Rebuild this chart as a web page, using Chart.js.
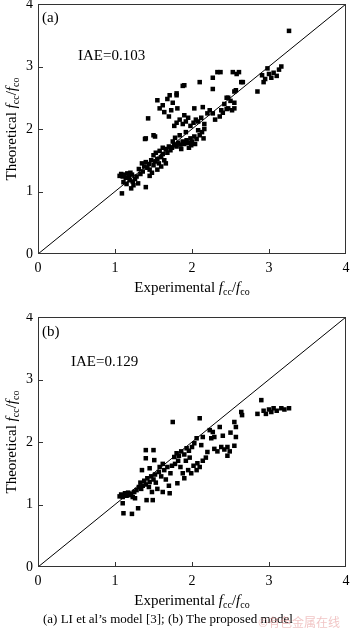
<!DOCTYPE html>
<html>
<head>
<meta charset="utf-8">
<script src="https://cdn.jsdelivr.net/npm/chart.js@4"></script>
<style>
  body { margin: 0; background: #fff; }
  #wrap { position: relative; width: 350px; height: 632px; font-family: "Liberation Serif", "Times New Roman", serif; color: #000; }
  canvas { position: absolute; left: 0; }
  .lbl { position: absolute; white-space: nowrap; font-size: 15px; line-height: 1; }
  .ytitle { position: absolute; white-space: nowrap; font-size: 15px; line-height: 1; transform: translate(-50%, -50%) rotate(-90deg); }
  .xtitle { position: absolute; white-space: nowrap; font-size: 15px; line-height: 1; transform: translate(-50%, -50%); }
  .ytitle sub, .xtitle sub { font-size: 10px; vertical-align: -3px; }
</style>
</head>
<body>
<div id="wrap">
  <canvas id="chartA" width="350" height="300" style="top:0px"></canvas>
  <canvas id="chartB" width="350" height="300" style="top:313px"></canvas>

  <div class="lbl" style="left:42px;top:10px;">(a)</div>
  <div class="lbl" style="left:78px;top:48px;">IAE=0.103</div>
  <div class="ytitle" style="left:12px;top:129px;">Theoretical <i>f</i><sub>cc</sub>/<i>f</i><sub>co</sub></div>
  <div class="xtitle" style="left:192px;top:288px;">Experimental <i>f</i><sub>cc</sub>/<i>f</i><sub>co</sub></div>

  <div class="lbl" style="left:42px;top:324px;">(b)</div>
  <div class="lbl" style="left:71px;top:354px;">IAE=0.129</div>
  <div class="ytitle" style="left:12px;top:442px;">Theoretical <i>f</i><sub>cc</sub>/<i>f</i><sub>co</sub></div>
  <div class="xtitle" style="left:192px;top:601px;">Experimental <i>f</i><sub>cc</sub>/<i>f</i><sub>co</sub></div>

  <div class="lbl" style="left:43px;top:612px;font-size:13px;">(a) LI et al’s model [3]; (b) The proposed model</div>
  <div class="lbl" style="left:258px;top:616px;font-size:12px;color:rgba(230,150,150,0.55);font-family:'Noto Sans CJK SC',sans-serif;">©有色金属在线</div>
</div>

<script>
// axis ticks (both panels share the same 0-4 range)
const tickValues = [0, 1, 2, 3, 4];
// 1:1 reference line
const diagX = [0, 4];
const diagY = [0, 4];

// (a) LI et al's model
const expA = [
  1.09, 1.06, 1.08, 1.10, 1.12, 1.14, 1.16, 1.18, 1.20, 1.22, 1.11, 1.15, 1.19, 1.23, 1.26, 1.28, 1.24, 1.21, 1.30, 1.40,
  1.33, 1.36, 1.31, 1.38, 1.42, 1.35, 1.40, 1.44, 1.47, 1.45, 1.48, 1.50, 1.52, 1.55, 1.50, 1.53, 1.57, 1.60, 1.58, 1.62,
  1.64, 1.66, 1.62, 1.68, 1.70, 1.72, 1.60, 1.66, 1.55, 1.45, 1.39, 1.43, 1.50, 1.52, 1.40,
  1.74, 1.77, 1.80, 1.82, 1.85, 1.88, 1.90, 1.93, 1.95, 1.98, 2.00, 2.03, 2.06, 2.10, 2.13, 1.99, 1.78, 1.84, 1.92, 2.08,
  2.15, 1.75, 1.86, 1.96, 2.04, 2.16,
  1.77, 1.80, 1.84, 1.88, 1.92, 1.95, 1.98, 2.02, 2.05, 2.08, 2.12, 2.16, 2.20, 2.27, 2.23, 2.03, 2.14, 2.36, 2.38, 2.30, 1.90,
  1.55, 1.58, 1.64, 1.68, 1.71, 1.73, 1.75, 1.80, 1.81, 1.80, 1.88, 1.90, 1.62, 1.70,
  2.10, 2.27, 2.27, 2.33, 2.37, 2.45, 2.45, 2.47, 2.52, 2.55, 2.57, 2.55, 2.55, 2.53, 2.58, 2.61, 2.64, 2.66, 2.42, 2.50,
  2.47, 2.40,
  2.85, 2.91, 2.95, 2.98, 3.00, 3.03, 3.06, 3.10, 3.13, 3.16, 2.93, 3.26
];
const theoA = [
  0.97, 1.25, 1.28, 1.24, 1.27, 1.22, 1.29, 1.25, 1.30, 1.27, 1.15, 1.12, 1.18, 1.16, 1.20, 1.24, 1.10, 1.05, 1.13, 1.07,
  1.28, 1.32, 1.36, 1.40, 1.38, 1.45, 1.47, 1.44, 1.50, 1.35, 1.30, 1.42, 1.48, 1.52, 1.58, 1.62, 1.45, 1.55, 1.65, 1.60,
  1.50, 1.68, 1.70, 1.62, 1.72, 1.66, 1.40, 1.45, 1.35, 1.25, 1.84, 2.17, 1.90, 1.88, 1.85,
  1.70, 1.74, 1.72, 1.78, 1.75, 1.80, 1.76, 1.82, 1.78, 1.85, 1.80, 1.88, 1.84, 1.90, 1.95, 1.74, 1.86, 1.90, 1.95, 1.98,
  1.85, 1.80, 1.68, 1.70, 1.76, 2.00,
  2.05, 2.10, 2.15, 2.08, 2.12, 2.18, 2.05, 2.10, 2.15, 2.12, 2.18, 2.08, 2.25, 2.25, 2.30, 2.33, 2.35, 2.20, 2.30, 2.15, 2.22,
  2.46, 2.33, 2.27, 2.48, 2.54, 2.30, 2.42, 2.54, 2.33, 2.57, 2.69, 2.70, 2.38, 2.20,
  2.75, 2.82, 2.64, 2.91, 2.91, 2.50, 2.32, 2.50, 2.30, 2.60, 2.62, 2.42, 2.33, 2.91, 2.88, 2.91, 2.75, 2.75, 2.40, 2.45,
  2.33, 2.26,
  2.60, 2.86, 2.80, 2.97, 2.88, 2.82, 2.90, 2.85, 2.95, 3.00, 2.75, 3.57
];

// (b) The proposed model
const expB = [
  1.11, 1.22, 1.30, 1.10, 1.06, 1.08, 1.10, 1.13, 1.15, 1.17, 1.19, 1.21, 1.23, 1.26, 1.25, 1.28, 1.31, 1.34, 1.33, 1.36,
  1.38, 1.41, 1.49, 1.40, 1.42, 1.45, 1.47, 1.44, 1.50, 1.52, 1.48, 1.55, 1.53, 1.57, 1.60, 1.62, 1.64, 1.66, 1.68, 1.71,
  1.70, 1.72, 1.74, 1.58, 1.62, 1.40, 1.50, 1.40, 1.51, 1.35, 1.45,
  1.75, 1.77, 1.80, 1.83, 1.86, 1.90, 1.93, 1.96, 2.00, 2.03, 1.78, 1.82, 1.85, 1.88, 1.90, 1.81, 1.95, 1.99, 2.02, 2.06,
  2.07, 2.10, 2.14, 1.92, 1.97, 2.06, 2.14, 2.10, 2.20, 2.25, 2.27, 2.29, 2.23, 2.29, 2.33, 2.38, 2.42, 2.46, 2.46, 2.49,
  2.55, 2.36, 2.40, 2.50, 2.55, 2.57, 2.57, 2.18, 2.12,
  2.64, 2.65, 2.85, 2.90, 2.93, 2.96, 3.00, 3.03, 3.06, 3.10, 3.16, 3.20, 3.26
];
const theoB = [
  0.86, 0.85, 0.94, 1.02, 1.13, 1.16, 1.12, 1.18, 1.14, 1.19, 1.15, 1.17, 1.12, 1.10, 1.20, 1.23, 1.28, 1.25, 1.35, 1.30,
  1.38, 1.07, 1.07, 1.32, 1.42, 1.36, 1.45, 1.28, 1.40, 1.48, 1.20, 1.25, 1.35, 1.52, 1.45, 1.20, 1.55, 1.40, 1.60, 1.18,
  1.30, 1.50, 1.62, 1.60, 1.65, 1.87, 1.87, 1.74, 1.71, 1.55, 1.58,
  2.32, 1.76, 1.82, 1.78, 1.85, 1.80, 1.90, 1.86, 1.92, 1.98, 1.65, 1.70, 1.60, 1.50, 1.42, 1.34, 1.55, 1.50, 1.62, 1.55,
  1.66, 1.60, 1.70, 1.70, 1.75, 2.06, 2.08, 2.38, 1.84, 2.06, 2.16, 2.08, 2.19, 1.89, 1.85, 1.92, 1.88, 1.92, 1.78, 1.85,
  1.94, 2.24, 2.10, 2.15, 2.32, 2.24, 2.08, 1.75, 1.95,
  2.48, 2.43, 2.45, 2.67, 2.50, 2.45, 2.52, 2.48, 2.54, 2.50, 2.54, 2.52, 2.54
];

Chart.defaults.font.family = '"Liberation Serif", "Times New Roman", serif';
Chart.defaults.font.size = 14;
Chart.defaults.color = '#000';

// box round the plot and short inward tick marks
const frameTicks = {
  id: 'frameTicks',
  afterDatasetsDraw(chart) {
    const { ctx, chartArea: a, scales: { x, y } } = chart;
    ctx.save();
    ctx.strokeStyle = '#333';
    ctx.lineWidth = 1;
    ctx.strokeRect(Math.round(a.left) + 0.5, Math.round(a.top) + 0.5,
      Math.round(a.right - a.left) - 1, Math.round(a.bottom - a.top) - 1);
    ctx.beginPath();
    tickValues.slice(1, -1).forEach(v => {
      const px = Math.round(x.getPixelForValue(v)) + 0.5;
      ctx.moveTo(px, a.bottom);
      ctx.lineTo(px, a.bottom - 5);
      const py = Math.round(y.getPixelForValue(v)) + 0.5;
      ctx.moveTo(a.left, py);
      ctx.lineTo(a.left + 5, py);
    });
    ctx.stroke();
    ctx.restore();
  }
};

function makeChart(id, xs, ys) {
  const pts = xs.map((v, i) => ({ x: v, y: ys[i] }));
  const diag = diagX.map((v, i) => ({ x: v, y: diagY[i] }));
  const axis = (isY) => ({
    type: 'linear',
    min: tickValues[0],
    max: tickValues[tickValues.length - 1],
    afterBuildTicks: s => { s.ticks = tickValues.map(v => ({ value: v })); },
    afterFit: s => {
      if (isY) { s.width = 38; s.paddingTop = 0; s.paddingBottom = 0; }
      else { s.height = 46; s.paddingLeft = 0; s.paddingRight = 0; }
    },
    grid: { display: false, drawTicks: false },
    border: { display: false },
    ticks: { padding: isY ? 5 : 6, font: { size: 14 } }
  });
  return new Chart(document.getElementById(id), {
    type: 'scatter',
    data: {
      datasets: [{
        data: pts,
        pointStyle: 'rect',
        pointRadius: 3.2,
        backgroundColor: '#000',
        borderColor: '#000',
        borderWidth: 0
      }, {
        type: 'line',
        data: diag,
        borderColor: '#000',
        borderWidth: 1,
        pointRadius: 0,
        fill: false
      }]
    },
    options: {
      responsive: false,
      animation: false,
      layout: { padding: { left: 0, right: 3, top: 4, bottom: 0 } },
      plugins: { legend: { display: false }, tooltip: { enabled: false } },
      scales: { x: axis(false), y: axis(true) }
    },
    plugins: [frameTicks]
  });
}

makeChart('chartA', expA, theoA);
makeChart('chartB', expB, theoB);
</script>
</body>
</html>
